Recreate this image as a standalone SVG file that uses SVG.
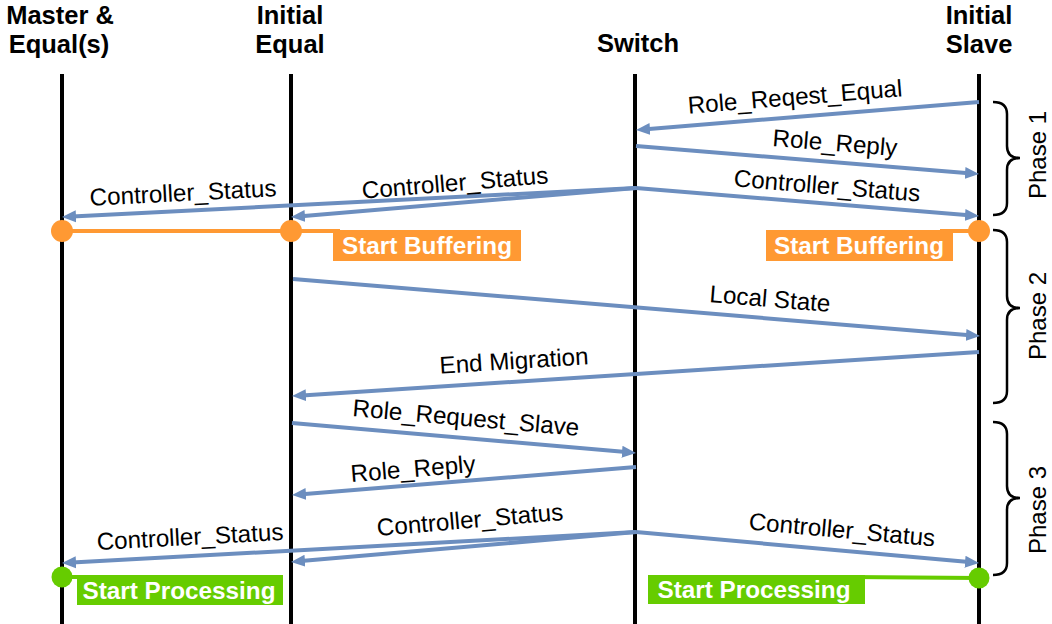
<svg xmlns="http://www.w3.org/2000/svg" width="1052" height="624" viewBox="0 0 1052 624">
<defs>
<style>
.hdr{font-family:"Liberation Sans",Arial,sans-serif;font-weight:bold;font-size:25.5px;fill:#000;text-anchor:middle}
.lbl{font-family:"Liberation Sans",Arial,sans-serif;font-size:24.2px;fill:#000;text-anchor:middle}
.tag{font-family:"Liberation Sans",Arial,sans-serif;font-weight:bold;font-size:24.3px;fill:#fff;text-anchor:middle}
.life{stroke:#000;stroke-width:4}
.msg{stroke:#6c8ebf;stroke-width:4;fill:none;marker-end:url(#ah)}
.brace{stroke:#000;stroke-width:2.5;fill:none}
.ph{font-family:"Liberation Sans",Arial,sans-serif;font-size:24px;fill:#000;text-anchor:middle}
</style>
<marker id="ah" markerUnits="userSpaceOnUse" markerWidth="15" markerHeight="13" refX="4" refY="6.5" orient="auto">
<path d="M0,0.5 L14,6.5 L0,12.5 z" fill="#6c8ebf"/>
</marker>
</defs>
<rect width="1052" height="624" fill="#fff"/>

<g id="lifeline-master">
<text class="hdr" x="60" y="24">Master &amp;</text>
<text class="hdr" x="59" y="53">Equal(s)</text>
<line class="life" x1="62" y1="74" x2="62" y2="624"/>
</g>
<g id="lifeline-initial-equal">
<text class="hdr" x="290" y="24">Initial</text>
<text class="hdr" x="290" y="53">Equal</text>
<line class="life" x1="291" y1="74" x2="291" y2="624"/>
</g>
<g id="lifeline-switch">
<text class="hdr" x="638" y="52">Switch</text>
<line class="life" x1="635" y1="74" x2="635" y2="624"/>
</g>
<g id="lifeline-initial-slave">
<text class="hdr" x="979" y="24">Initial</text>
<text class="hdr" x="979" y="53">Slave</text>
<line class="life" x1="979" y1="74" x2="979" y2="624"/>
</g>

<g id="connectors">
<line class="msg" x1="979" y1="102" x2="646" y2="129.2"/>
<line class="msg" x1="636" y1="146" x2="969" y2="173.2"/>
<line class="msg" x1="636" y1="188" x2="969" y2="215.2"/>
<line class="msg" x1="636" y1="188" x2="72" y2="216.5"/>
<line class="msg" x1="636" y1="188" x2="301" y2="216.2"/>
<line class="msg" x1="293" y1="279" x2="970" y2="335.2"/>
<line class="msg" x1="979" y1="352" x2="302" y2="395.4"/>
<line class="msg" x1="292" y1="423" x2="626" y2="452.1"/>
<line class="msg" x1="636" y1="467" x2="302" y2="494.2"/>
<line class="msg" x1="636" y1="532" x2="72" y2="562.5"/>
<line class="msg" x1="636" y1="532" x2="301" y2="561.1"/>
<line class="msg" x1="636" y1="532" x2="969" y2="562.1"/>
</g>

<g id="labels">
<text class="lbl" x="795" y="105" transform="rotate(-4.67 795 97)">Role_Reqest_Equal</text>
<text class="lbl" x="835" y="151" transform="rotate(4.67 835 143)">Role_Reply</text>
<text class="lbl" x="827" y="194" transform="rotate(4.67 827 186)">Controller_Status</text>
<text class="lbl" x="183" y="201" transform="rotate(-2.9 183 193)">Controller_Status</text>
<text class="lbl" x="455" y="191" transform="rotate(-4.8 455 183)">Controller_Status</text>
<text class="lbl" x="770" y="307" transform="rotate(4.74 770 299)">Local State</text>
<text class="lbl" x="514" y="369" transform="rotate(-3.66 514 361)">End Migration</text>
<text class="lbl" x="466" y="426" transform="rotate(4.98 466 418)">Role_Request_Slave</text>
<text class="lbl" x="413" y="477" transform="rotate(-4.65 413 469)">Role_Reply</text>
<text class="lbl" x="190" y="545" transform="rotate(-3.09 190 537)">Controller_Status</text>
<text class="lbl" x="470" y="528" transform="rotate(-4.97 470 520)">Controller_Status</text>
<text class="lbl" x="842" y="538" transform="rotate(5.16 842 530)">Controller_Status</text>
</g>

<g id="start-buffering">
<line x1="62" y1="231" x2="340" y2="231" stroke="#ff9933" stroke-width="4"/>
<line x1="940" y1="231" x2="979" y2="231" stroke="#ff9933" stroke-width="4"/>
<rect x="333" y="230" width="188" height="31" fill="#ff9933"/>
<rect x="766" y="230" width="187" height="31" fill="#ff9933"/>
<circle cx="62" cy="231" r="11" fill="#ff9933"/>
<circle cx="291" cy="231" r="11" fill="#ff9933"/>
<circle cx="979" cy="231" r="11" fill="#ff9933"/>
<text class="tag" x="427" y="254">Start Buffering</text>
<text class="tag" x="859" y="254">Start Buffering</text>
</g>

<g id="start-processing">
<line x1="62" y1="577" x2="85" y2="577" stroke="#66cc00" stroke-width="4"/>
<line x1="850" y1="577" x2="979" y2="578" stroke="#66cc00" stroke-width="4"/>
<rect x="77" y="575" width="206" height="30" fill="#66cc00"/>
<rect x="648" y="575" width="217" height="29" fill="#66cc00"/>
<circle cx="62" cy="577" r="10.5" fill="#66cc00"/>
<circle cx="979" cy="578" r="10.5" fill="#66cc00"/>
<text class="tag" x="179" y="599">Start Processing</text>
<text class="tag" x="754" y="598">Start Processing</text>
</g>

<g id="phase-1">
<path class="brace" d="M993,102 Q1007,102 1007,114 L1007,146 Q1007,158 1020,158 Q1007,158 1007,170 L1007,203 Q1007,215 993,215"/>
<text class="ph" x="1046" y="155" transform="rotate(-90 1046 155)">Phase 1</text>
</g>
<g id="phase-2">
<path class="brace" d="M993,230 Q1007,230 1007,242 L1007,296 Q1007,308 1020,308 Q1007,308 1007,320 L1007,391 Q1007,403 993,403"/>
<text class="ph" x="1046" y="316" transform="rotate(-90 1046 316)">Phase 2</text>
</g>
<g id="phase-3">
<path class="brace" d="M993,422 Q1007,422 1007,434 L1007,486 Q1007,498 1020,498 Q1007,498 1007,510 L1007,563 Q1007,575 993,575"/>
<text class="ph" x="1046" y="510" transform="rotate(-90 1046 510)">Phase 3</text>
</g>
</svg>
